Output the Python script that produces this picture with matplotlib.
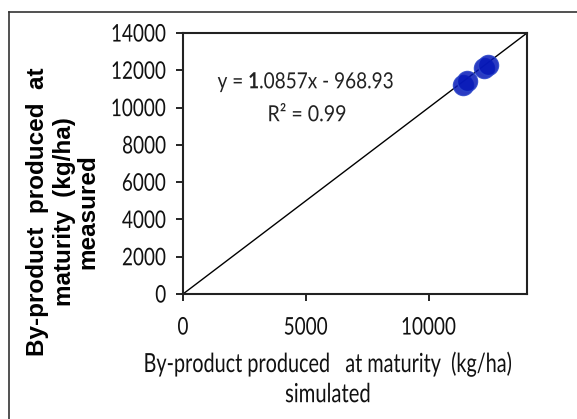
import matplotlib
matplotlib.use("Agg")
import matplotlib.pyplot as plt
from matplotlib.lines import Line2D
from matplotlib.patheffects import AbstractPathEffect
from matplotlib.transforms import Affine2D

# Data
simulated = [11400, 11550, 12250, 12400]
measured = [11200, 11400, 12100, 12300]
line_1to1 = [0, 14000]
xticks = [0, 5000, 10000]
yticks = [0, 2000, 4000, 6000, 8000, 10000, 12000, 14000]

NARROW = ['Lato', 'DejaVu Sans']
BOLD = ['Liberation Sans', 'DejaVu Sans']

plt.rcParams['mathtext.fontset'] = 'custom'
plt.rcParams['mathtext.rm'] = 'Lato'
plt.rcParams['mathtext.bf'] = 'Lato:bold'


class Stretch(AbstractPathEffect):
    """Stretch glyphs vertically about a fixed display y (gives a condensed look)."""
    def __init__(self, sy, anchor_y):
        super().__init__()
        self.sy = sy
        self.ay = anchor_y

    def draw_path(self, renderer, gc, tpath, affine, rgbFace=None):
        a = affine + Affine2D().translate(0, -self.ay).scale(1, self.sy).translate(0, self.ay)
        renderer.draw_path(gc, tpath, a, rgbFace)


W, H = 577, 419
fig = plt.figure(figsize=(W/100, H/100), dpi=100)
ax = fig.add_axes([183/W, 1-294/H, (527-183)/W, (294-33)/H])

ax.plot(line_1to1, line_1to1, color='black', lw=1.0, zorder=2)
ax.scatter(simulated, measured, s=210, color='#0618b8', edgecolors='#2a44c8',
           linewidths=1.0, alpha=0.85, zorder=3)

ax.set_xlim(0, 14000)
ax.set_ylim(0, 14000)
ax.set_xticks(xticks)
ax.set_yticks(yticks)
ax.tick_params(direction='out', length=5, width=1.2, color='black')
ax.tick_params(axis='y', pad=7)
ax.tick_params(axis='x', pad=13)
TICK_SQ = 0.78
TICK_SIZE = 17.5
for lab in ax.get_xticklabels() + ax.get_yticklabels():
    lab.set_fontfamily(NARROW)
    lab.set_fontsize(TICK_SIZE * TICK_SQ)
    lab.set_color('#111111')
for sp in ax.spines.values():
    sp.set_linewidth(1.5)
    sp.set_color('#222222')

# x label (two lines)
xl1 = fig.text(328/W, 1-364/H, 'By-product produced   at maturity  (kg/ha)',
               ha='center', va='center', fontsize=19, family=NARROW, color='#111111')
xl2 = fig.text(328/W, 1-395/H, 'simulated', ha='center', va='center',
               fontsize=19, family=NARROW, color='#111111')

# y label (three lines, rotated)
fig.text(38/W, 1-212/H, 'By-product  produced  at', rotation=90,
         ha='center', va='center', fontsize=17.5, fontweight='bold', family=BOLD)
fig.text(64/W, 1-212/H, 'maturity  (kg/ha)', rotation=90,
         ha='center', va='center', fontsize=17.5, fontweight='bold', family=BOLD)
fig.text(88/W, 1-212/H, 'measured', rotation=90,
         ha='center', va='center', fontsize=17.5, fontweight='bold', family=BOLD)

# equation text (bold "1" as in the reference)
eq = fig.text(306/W, 1-82/H, r'y = $\mathbf{1}$.0857x - 968.93', ha='center',
              va='center', fontsize=16, family=NARROW, color='#222222')
r2 = fig.text(307/W, 1-115/H, 'R² = 0.99', ha='center', va='center',
              fontsize=16, family=NARROW, color='#222222')

fig.canvas.draw()
r = fig.canvas.get_renderer()

# condense: shrink font so width matches target, then stretch vertically back
cond = []
for t, target_w in [(xl1, 369), (xl2, 86), (eq, 177), (r2, 79)]:
    bb = t.get_window_extent(renderer=r)
    k = min(1.0, target_w / bb.width)
    t.set_fontsize(t.get_fontsize() * k)
    cond.append((t, 1.0 / k))

fig.canvas.draw()
for t, sy in cond:
    bb = t.get_window_extent(renderer=r)
    t.set_path_effects([Stretch(sy, (bb.y0 + bb.y1) / 2)])
for lab in ax.get_xticklabels() + ax.get_yticklabels():
    bb = lab.get_window_extent(renderer=r)
    lab.set_path_effects([Stretch(1.0 / TICK_SQ, (bb.y0 + bb.y1) / 2)])

# outer frame
fig.add_artist(Line2D([9/W, 9/W], [0, 1-12/H], color='#333333', lw=1.2,
                      transform=fig.transFigure))
fig.add_artist(Line2D([9/W, 1], [1-12/H, 1-12/H], color='#333333', lw=1.2,
                      transform=fig.transFigure))

fig.savefig('out.png', dpi=100)
